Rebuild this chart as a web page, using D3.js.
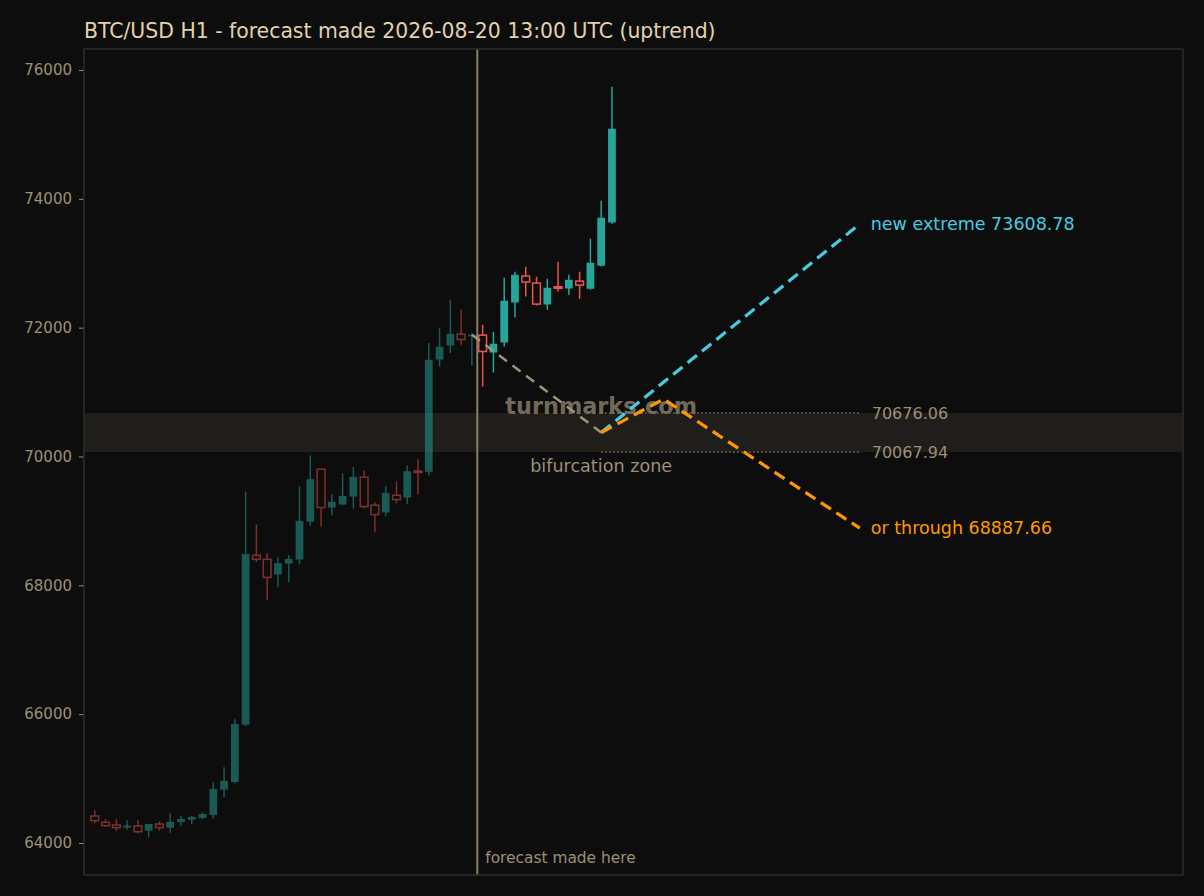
<!DOCTYPE html>
<html>
<head>
<meta charset="utf-8">
<script src="https://cdn.jsdelivr.net/npm/d3@7"></script>
<style>
  html, body { margin: 0; padding: 0; background: #0d0d0d; }
  svg { display: block; font-family: "DejaVu Sans", sans-serif; }
</style>
</head>
<body>
<svg id="chart"></svg>
<script>
// hourly candles
const opens  = [64419, 64321, 64280, 64238, 64264, 64191, 64295, 64238, 64326, 64362, 64388, 64435, 64828, 64947, 65837, 68468, 68403, 68167, 68338, 68400, 68990, 69803, 69207, 69254, 69378, 69679, 69244, 69130, 69397, 69363, 69775, 69761, 71506, 71723, 71900, 71869, 71884, 71614, 71770, 72391, 72801, 72692, 72360, 72635, 72608, 72723, 72604, 72961, 73633];
const closes = [64346, 64269, 64238, 64269, 64175, 64295, 64238, 64326, 64373, 64404, 64450, 64839, 64963, 65848, 68488, 68403, 68124, 68344, 68411, 69001, 69648, 69207, 69296, 69389, 69684, 69223, 69098, 69436, 69331, 69772, 69765, 71501, 71703, 71905, 71816, 71890, 71630, 71750, 72417, 72821, 72708, 72366, 72619, 72614, 72743, 72661, 73007, 73706, 75088];
const highs  = [64508, 64368, 64368, 64353, 64353, 64300, 64337, 64461, 64419, 64419, 64477, 64943, 65176, 65921, 69456, 68943, 68499, 68437, 68468, 69533, 70015, 69810, 69415, 69741, 69835, 69782, 69291, 69539, 69611, 69860, 69958, 71760, 71993, 72432, 72277, 71916, 72045, 71936, 72774, 72868, 72945, 72790, 72759, 73023, 72821, 72868, 73380, 73970, 75741];
const lows   = [64306, 64253, 64191, 64207, 64150, 64089, 64191, 64160, 64269, 64290, 64368, 64384, 64710, 64927, 65817, 68364, 67774, 67971, 68049, 68328, 68928, 68912, 69083, 69244, 69192, 69198, 68825, 69073, 69275, 69260, 69415, 69704, 71397, 71605, 71734, 71408, 71086, 71304, 71708, 72158, 72484, 72344, 72277, 72562, 72510, 72448, 72590, 72950, 73613];

const forecastAt = 35.5;           // candle index where the forecast was made
const zoneHigh = 70676.06;
const zoneLow = 70067.94;
const approachPath = [[35, 71890], [47, 70372]];
const extremePath = [[47, 70372], [71, 73608.78]];
const throughPath = [[47, 70372], [52.8, 70890], [71, 68887.66]];
const yTicks = [64000, 66000, 68000, 70000, 72000, 74000, 76000];
const titleText = 'BTC/USD H1 - forecast made 2026-08-20 13:00 UTC (uptrend)';

const containerWidth = 1204;
const containerHeight = 896;
const margin = { top: 49, right: 21, bottom: 21, left: 84 };
const width = containerWidth - margin.left - margin.right;
const height = containerHeight - margin.top - margin.bottom;

const up = '#26a69a';
const down = '#ef5350';
const muted = '#9c8f76';

const svg = d3.select('#chart')
  .attr('width', containerWidth)
  .attr('height', containerHeight);

svg.append('rect')
  .attr('width', containerWidth)
  .attr('height', containerHeight)
  .attr('fill', '#0d0d0d');

const chart = svg.append('g')
  .attr('transform', `translate(${margin.left},${margin.top})`);

const x = d3.scaleLinear()
  .domain([-1, 101])
  .range([0, width]);

const y = d3.scaleLinear()
  .domain([63503, 76326])
  .range([height, 0]);

// bifurcation zone band
chart.append('rect')
  .attr('x', 0)
  .attr('width', width)
  .attr('y', y(zoneHigh))
  .attr('height', y(zoneLow) - y(zoneHigh))
  .attr('fill', '#201e1a');

// y axis
const yAxis = chart.append('g')
  .attr('class', 'axis axis--y')
  .call(d3.axisLeft(y).tickValues(yTicks).tickSize(5).tickPadding(7).tickFormat(d3.format('d')));
yAxis.select('.domain').remove();
yAxis.selectAll('.tick line').attr('stroke', muted);
yAxis.selectAll('.tick text')
  .attr('fill', muted)
  .style('font-size', '15px')
  .style('font-family', '"DejaVu Sans", sans-serif');

// candles
const candles = chart.selectAll('.candle')
  .data(opens.map((o, i) => ({ i, o, c: closes[i], h: highs[i], l: lows[i] })))
  .enter().append('g')
  .attr('class', 'candle')
  .attr('opacity', (d) => (d.i < forecastAt ? 0.5 : 1));

const bodyW = (x(1) - x(0)) * 0.72;

candles.append('line')
  .attr('x1', (d) => x(d.i))
  .attr('x2', (d) => x(d.i))
  .attr('y1', (d) => y(d.h))
  .attr('y2', (d) => y(d.l))
  .attr('stroke', (d) => (d.c >= d.o ? up : down))
  .attr('stroke-width', 1.5);

candles.append('rect')
  .attr('x', (d) => x(d.i) - bodyW / 2)
  .attr('width', bodyW)
  .attr('y', (d) => y(Math.max(d.o, d.c)))
  .attr('height', (d) => Math.max(1.5, Math.abs(y(d.o) - y(d.c))))
  .attr('fill', (d) => (d.c >= d.o ? up : '#0d0d0d'))
  .attr('stroke', (d) => (d.c >= d.o ? up : down))
  .attr('stroke-width', (d) => (d.c >= d.o ? 0 : 1.5));

// forecast marker
chart.append('line')
  .attr('x1', x(forecastAt))
  .attr('x2', x(forecastAt))
  .attr('y1', 0)
  .attr('y2', height)
  .attr('stroke', '#8a7f68')
  .attr('stroke-width', 2);

chart.append('text')
  .attr('x', x(forecastAt) + 8)
  .attr('y', height - 12)
  .attr('fill', muted)
  .style('font-size', '15.4px')
  .text('forecast made here');

// zone edges
[zoneHigh, zoneLow].forEach((v) => {
  chart.append('line')
    .attr('x1', x(47))
    .attr('x2', x(71))
    .attr('y1', y(v))
    .attr('y2', y(v))
    .attr('stroke', '#8c826e')
    .attr('stroke-width', 1.2)
    .attr('stroke-dasharray', '1.5,2.5');

  chart.append('text')
    .attr('x', x(71) + 12)
    .attr('y', y(v))
    .attr('dy', '.35em')
    .attr('fill', muted)
    .style('font-size', '16px')
    .text(v.toFixed(2));
});

chart.append('text')
  .attr('x', x(47))
  .attr('y', y(zoneLow) + 20)
  .attr('text-anchor', 'middle')
  .attr('fill', muted)
  .style('font-size', '17.6px')
  .text('bifurcation zone');

chart.append('text')
  .attr('x', x(47))
  .attr('y', y(zoneHigh) + 1)
  .attr('text-anchor', 'middle')
  .attr('fill', '#7d7462')
  .attr('opacity', 0.9)
  .style('font-size', '22.4px')
  .style('font-weight', 'bold')
  .text('turnmarks.com');

// projected paths
const line = d3.line()
  .x((d) => x(d[0]))
  .y((d) => y(d[1]));

chart.append('path')
  .attr('d', line(approachPath))
  .attr('fill', 'none')
  .attr('stroke', '#a09479')
  .attr('stroke-width', 2.5)
  .attr('stroke-dasharray', '10,7');

chart.append('path')
  .attr('d', line(extremePath))
  .attr('fill', 'none')
  .attr('stroke', '#45cde0')
  .attr('stroke-width', 3.2)
  .attr('stroke-dasharray', '12,6.5');

chart.append('path')
  .attr('d', line(throughPath))
  .attr('fill', 'none')
  .attr('stroke', '#ff9800')
  .attr('stroke-width', 3.2)
  .attr('stroke-dasharray', '12,6.5');

chart.append('text')
  .attr('x', x(71) + 11)
  .attr('y', y(extremePath[1][1]))
  .attr('dy', '.35em')
  .attr('fill', '#45cde0')
  .style('font-size', '17.5px')
  .text('new extreme ' + extremePath[1][1].toFixed(2));

chart.append('text')
  .attr('x', x(71) + 11)
  .attr('y', y(throughPath[2][1]))
  .attr('dy', '.35em')
  .attr('fill', '#ff9800')
  .style('font-size', '17.5px')
  .text('or through ' + throughPath[2][1].toFixed(2));

// frame
chart.append('rect')
  .attr('width', width)
  .attr('height', height)
  .attr('fill', 'none')
  .attr('stroke', '#2c2c2a')
  .attr('stroke-width', 1.5);

svg.append('text')
  .attr('x', margin.left)
  .attr('y', 38)
  .attr('fill', '#e2d2ad')
  .style('font-size', '20.4px')
  .text(titleText);
</script>
</body>
</html>
